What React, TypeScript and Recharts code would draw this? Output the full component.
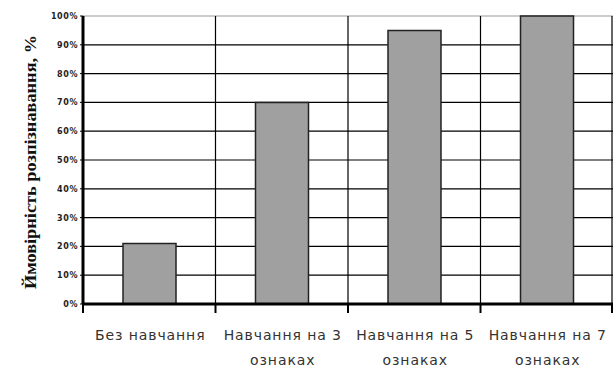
import { BarChart, Bar, XAxis, YAxis, CartesianGrid } from 'recharts';

const categories = ['Без навчання', 'Навчання на 3 ознаках', 'Навчання на 5 ознаках', 'Навчання на 7 ознаках'];
const recognition = [21, 70, 95, 100];
const yTicks = [0, 10, 20, 30, 40, 50, 60, 70, 80, 90, 100];
const yTitle = 'Ймовірність розпізнавання, %';

const data = categories.map((name, i) => ({ name, value: recognition[i] }));

const W = 614;
const H = 367;
const M = { top: 16, right: 1, left: 0, bottom: 0 };
const Y_W = 83;
const X_H = 63;
const BAND = (W - M.left - M.right - Y_W) / categories.length;

function XTick(props: any) {
  const { x, y, payload, index } = props;
  const words = String(payload.value).split(' ');
  const lines = words.length > 3 ? [words.slice(0, 3).join(' '), words.slice(3).join(' ')] : [words.join(' ')];
  const axisY = y - 8;
  return (
    <g>
      <line x1={x - BAND / 2} x2={x - BAND / 2} y1={axisY} y2={axisY + 9} stroke="#000" strokeWidth={2} />
      {index === categories.length - 1 && (
        <line x1={x + BAND / 2 - 1} x2={x + BAND / 2 - 1} y1={axisY} y2={axisY + 9} stroke="#000" strokeWidth={2} />
      )}
      {lines.map((l, i) => (
        <text key={i} x={x + 1} y={axisY + 36 + i * 25} textAnchor="middle" fontSize={14} fill="#333"
          letterSpacing={0.9} fontFamily="DejaVu Sans">{l}</text>
      ))}
    </g>
  );
}

function YTick(props: any) {
  const { x, y, payload } = props;
  return (
    <text x={x} y={y + 3} textAnchor="end" fontSize={8} fill="#222" fontWeight="bold" letterSpacing={0.6}
      fontFamily="DejaVu Sans">
      {payload.value}%
    </text>
  );
}

function Title() {
  return (
    <text x={36} y={162} transform="rotate(-90 36 162)" textAnchor="middle" fontSize={16} fontWeight="bold"
      fontFamily="Liberation Serif" fill="#111" textLength={254} lengthAdjust="spacingAndGlyphs">
      {yTitle}
    </text>
  );
}

// y position of a value on the value axis, from the plot offset
const yPos = (offset: any, t: number) => offset.top + offset.height * (1 - t / 100);

const hLines = ({ offset }: any) => yTicks.filter(t => t < 100).map(t => yPos(offset, t));
const topLine = ({ offset }: any) => [yPos(offset, 100)];
const vLines = ({ offset }: any) =>
  [1, 2, 3, 4].map(i => offset.left + i * offset.width / 4 - (i === 4 ? 1 : 0));

export default function App() {
  return (
    <div style={{ position: 'absolute', left: 0, top: 0, background: '#fff' }}>
      <BarChart width={W} height={H} data={data} margin={M}>
        <CartesianGrid stroke="#999" vertical={false} horizontalCoordinatesGenerator={topLine} />
        <CartesianGrid stroke="#000" strokeWidth={1.2} horizontalCoordinatesGenerator={hLines}
          verticalCoordinatesGenerator={vLines} />
        <XAxis dataKey="name" height={X_H} axisLine={{ stroke: '#000', strokeWidth: 3 }} tickLine={false}
          tick={<XTick />} interval={0} />
        <YAxis width={Y_W} domain={[0, 100]} ticks={yTicks} axisLine={{ stroke: '#000', strokeWidth: 3 }}
          tickLine={{ stroke: '#000' }} tickSize={3} tick={<YTick />} label={{ content: <Title /> }} />
        <Bar dataKey="value" fill="#a0a0a0" stroke="#222" strokeWidth={1.5} barSize={53} isAnimationActive={false} />
      </BarChart>
    </div>
  );
}
